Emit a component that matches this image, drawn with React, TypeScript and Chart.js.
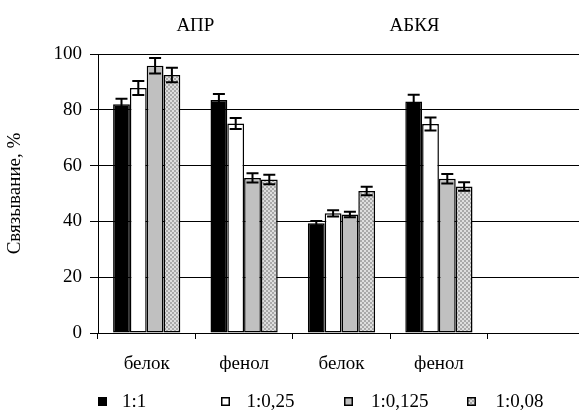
import React, { useEffect, useRef } from 'react';
import { Chart, registerables } from 'chart.js';

Chart.register(...registerables);

const categories = ['белок', 'фенол', 'белок', 'фенол', ''];
const seriesLabels = ['1:1', '1:0,25', '1:0,125', '1:0,08'];
const ratio1 = [82, 83.5, 39.3, 83];
const ratio1Err = [2, 2.2, 0.8, 2.4];
const ratio025 = [87.8, 75.1, 42.9, 74.9];
const ratio025Err = [2.5, 2, 1.1, 2.3];
const ratio0125 = [95.8, 55.6, 42.5, 55.3];
const ratio0125Err = [2.8, 1.7, 1, 1.7];
const ratio008 = [92.5, 55, 50.9, 52.5];
const ratio008Err = [2.6, 1.7, 1.5, 1.5];
const groupTitles = ['АПР', 'АБКЯ'];
const groupTitleAt = [0.5, 2.75];
const yAxisTitle = 'Связывание, %';

const FONT = '"Liberation Serif"';
const FONT_SIZE = 19;

function makeHatch(): CanvasPattern | string {
  const c = document.createElement('canvas');
  c.width = 4;
  c.height = 4;
  const g = c.getContext('2d');
  if (!g) return '#c8c8c8';
  g.fillStyle = '#dedede';
  g.fillRect(0, 0, 4, 4);
  g.fillStyle = '#a9a9a9';
  g.fillRect(0, 0, 2, 2);
  g.fillRect(2, 2, 2, 2);
  const p = g.createPattern(c, 'repeat');
  return p || '#c8c8c8';
}

const errorBarsPlugin = {
  id: 'errorBars',
  afterDatasetsDraw(chart: any) {
    const ctx = chart.ctx;
    const yScale = chart.scales.y;
    ctx.save();
    ctx.strokeStyle = '#000';
    ctx.lineWidth = 2;
    chart.data.datasets.forEach((ds: any, i: number) => {
      const meta = chart.getDatasetMeta(i);
      const errs = ds.errors || [];
      meta.data.forEach((el: any, j: number) => {
        const v = ds.data[j];
        const e = errs[j];
        if (v == null || e == null) return;
        const x = el.x;
        const yTop = yScale.getPixelForValue(v + e);
        const yBot = yScale.getPixelForValue(v - e);
        const half = 6;
        ctx.beginPath();
        ctx.moveTo(x, yTop);
        ctx.lineTo(x, yBot);
        ctx.moveTo(x - half, yTop);
        ctx.lineTo(x + half, yTop);
        ctx.moveTo(x - half, yBot);
        ctx.lineTo(x + half, yBot);
        ctx.stroke();
      });
    });
    ctx.restore();
  },
};

const annotPlugin = {
  id: 'annot',
  afterDraw(chart: any) {
    const ctx = chart.ctx;
    const xScale = chart.scales.x;
    const area = chart.chartArea;
    ctx.save();
    ctx.fillStyle = '#000';
    ctx.font = `${FONT_SIZE}px ${FONT}`;
    ctx.textAlign = 'center';
    ctx.textBaseline = 'alphabetic';
    groupTitles.forEach((t, i) => {
      const x = xScale.getPixelForValue(groupTitleAt[i]);
      ctx.fillText(t, x, area.top - 23);
    });
    ctx.textAlign = 'left';
    ctx.textBaseline = 'middle';
    const legendY = chart.height - 10;
    chart.data.datasets.forEach((ds: any, i: number) => {
      const bx = area.left + i * 123;
      ctx.fillStyle = ds.backgroundColor;
      ctx.fillRect(bx, legendY - 5, 9, 9);
      ctx.strokeStyle = '#000';
      ctx.lineWidth = 1.5;
      ctx.strokeRect(bx + 0.75, legendY - 4.25, 7.5, 7.5);
      ctx.fillStyle = '#000';
      ctx.fillText(ds.label, bx + 24 + i * 1.5, legendY);
    });
    ctx.restore();
  },
};

export default function App() {
  const ref = useRef<HTMLCanvasElement | null>(null);

  useEffect(() => {
    if (!ref.current) return;
    const hatch = makeHatch();
    const values = [ratio1, ratio025, ratio0125, ratio008];
    const errors = [ratio1Err, ratio025Err, ratio0125Err, ratio008Err];
    const fills: any[] = ['#000000', '#ffffff', '#c0c0c0', hatch];
    const chart = new Chart(ref.current, {
      type: 'bar',
      data: {
        labels: categories,
        datasets: seriesLabels.map((label, i) => ({
          label,
          data: values[i],
          errors: errors[i],
          backgroundColor: fills[i],
          borderColor: '#000',
          borderWidth: 1.5,
          borderSkipped: false,
          categoryPercentage: 0.69,
          barPercentage: 1.0,
        })) as any,
      },
      options: {
        animation: false,
        responsive: false,
        maintainAspectRatio: false,
        layout: { padding: { top: 54, bottom: 40, left: 0, right: 5 } },
        plugins: {
          legend: { display: false },
          tooltip: { enabled: false },
          title: { display: false },
        },
        scales: {
          x: {
            offset: true,
            grid: {
              offset: true,
              drawOnChartArea: false,
              drawTicks: true,
              tickLength: 6,
              color: '#000',
            },
            border: { color: '#000', width: 1 },
            ticks: {
              color: '#000',
              font: { family: FONT, size: FONT_SIZE },
              padding: 14,
              maxRotation: 0,
              autoSkip: false,
            },
            afterFit(scale: any) {
              scale.height = 39;
            },
          },
          y: {
            min: 0,
            max: 100,
            grid: {
              color: '#000',
              lineWidth: 1,
              drawTicks: true,
              tickLength: 8,
            },
            border: { color: '#000', width: 1 },
            ticks: {
              stepSize: 20,
              color: '#000',
              font: { family: FONT, size: FONT_SIZE },
              padding: 8,
            },
            title: {
              display: true,
              text: yAxisTitle,
              color: '#000',
              font: { family: FONT, size: FONT_SIZE },
              padding: { top: 4, bottom: 0 },
            },
            afterFit(scale: any) {
              scale.width = 98;
            },
          },
        },
      } as any,
      plugins: [errorBarsPlugin, annotPlugin],
    });
    return () => chart.destroy();
  }, []);

  return (
    <div
      style={{
        position: 'fixed',
        left: 0,
        top: 0,
        width: 579,
        height: 412,
        overflow: 'hidden',
        background: '#fff',
      }}
    >
      <canvas ref={ref} width={590} height={412} style={{ display: 'block', width: 590, height: 412 }} />
    </div>
  );
}
